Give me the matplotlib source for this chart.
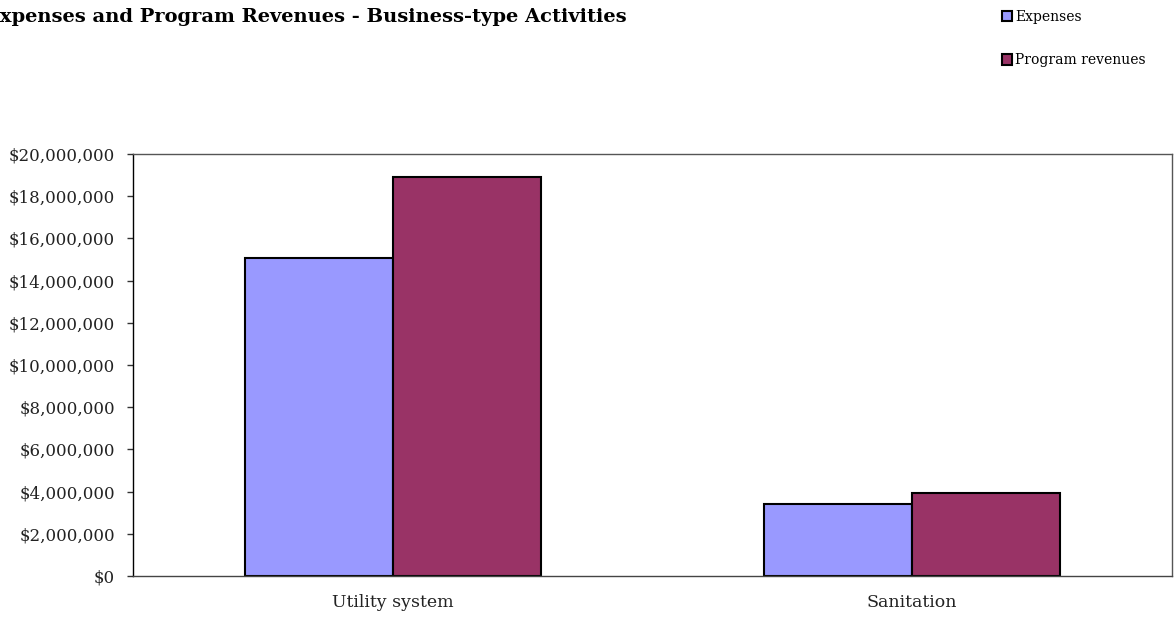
import matplotlib.pyplot as plt
import numpy as np
from matplotlib.ticker import FuncFormatter
from matplotlib.patches import Patch

plt.rcParams['font.family'] = ['DejaVu Serif']

categories = ['Utility system', 'Sanitation']
expenses = [15070000, 3410000]
program_revenues = [18910000, 3930000]
series_labels = ['Expenses', 'Program revenues']
colors = ['#9999FF', '#993366']

fig = plt.figure(figsize=(11.76, 6.18), dpi=100)
ax = fig.add_axes([133 / 1176, 1 - 576 / 618, 1039 / 1176, 422 / 618])

x = np.arange(len(categories))
w = 0.285
ax.bar(x - w / 2, expenses, w, color=colors[0], edgecolor='black', linewidth=1.5)
ax.bar(x + w / 2, program_revenues, w, color=colors[1], edgecolor='black', linewidth=1.5)

ax.set_xlim(-0.5, 1.5)
ax.set_ylim(0, 20000000)
ax.set_yticks(np.arange(0, 20000001, 2000000))
ax.yaxis.set_major_formatter(FuncFormatter(lambda v, p: '${:,.0f}'.format(v)))
ax.set_xticks(x)
ax.set_xticklabels(categories)
ax.tick_params(axis='x', length=0, labelsize=12.5, pad=13)
ax.tick_params(axis='y', length=4.5, width=1, labelsize=12, pad=8.5, colors='#333333')
for lbl in ax.get_yticklabels() + ax.get_xticklabels():
    lbl.set_color('#222222')

ax.spines['left'].set_color('black')
ax.spines['bottom'].set_color('#444444')
ax.spines['top'].set_color('#555555')
ax.spines['right'].set_color('#555555')
for s in ax.spines.values():
    s.set_linewidth(1)

# title is cut at the left edge in the original too
fig.text(-15 / 1176, 1 - 22 / 618, 'Expenses and Program Revenues - Business-type Activities',
         fontsize=14, fontweight='bold', ha='left', va='baseline')

handles = [Patch(facecolor=c, edgecolor='black', linewidth=1.5) for c in colors]
fig.legend(handles, series_labels, loc='upper left', bbox_to_anchor=(989 / 1176, 1 + 3 / 618),
           frameon=False, fontsize=10, handlelength=0.75, handleheight=0.75,
           handletextpad=0.25, labelspacing=2.15)

fig.savefig('out.png', dpi=100)
